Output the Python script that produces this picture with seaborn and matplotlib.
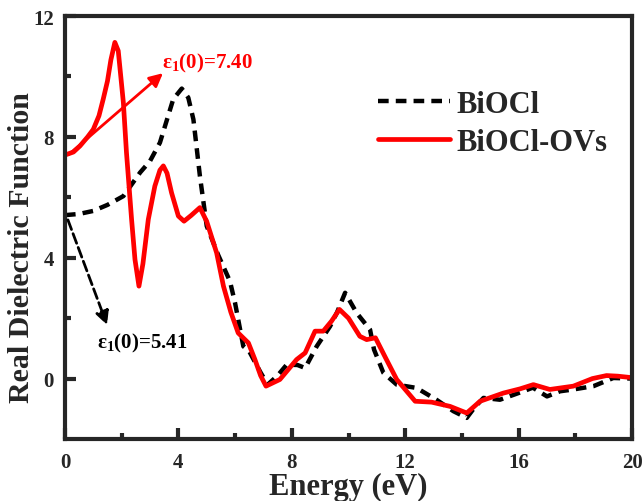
import seaborn as sns
from matplotlib import pyplot as plt
import pandas as pd

# energy (eV) and real dielectric function
biocl_x = [0, 0.5, 1.0, 1.5, 2.06, 2.65, 3.0, 3.35, 3.82, 4.12, 4.35, 4.53, 4.76, 5.0,
           5.4, 5.82, 6.0, 6.29, 6.5, 6.9, 7.15, 7.5, 7.82, 8.2, 8.47, 8.88, 9.35, 9.6,
           9.88, 10.29, 10.76, 10.9, 11.23, 11.7, 12.4, 13.1, 13.7, 14.17, 14.45, 14.76,
           15.34, 16.17, 16.5, 17.0, 17.46, 17.93, 18.64, 19.34, 20.0]
biocl_y = [5.41, 5.45, 5.55, 5.75, 6.04, 6.82, 7.2, 7.81, 9.25, 9.6, 9.3, 8.58, 6.7, 5.05,
           4.1, 3.22, 2.5, 1.07, 0.9, 0.2, -0.2, 0.1, 0.46, 0.45, 0.35, 1.07, 1.73, 2.2,
           2.84, 2.17, 1.62, 0.96, 0.19, -0.2, -0.31, -0.7, -1.08, -1.3, -0.95, -0.64,
           -0.7, -0.42, -0.3, -0.59, -0.42, -0.36, -0.25, 0.02, 0.0]

ovs_x = [0, 0.3, 0.53, 0.8, 1.0, 1.2, 1.35, 1.5, 1.62, 1.76, 1.88, 2.06, 2.17, 2.35, 2.47,
         2.61, 2.75, 2.94, 3.17, 3.35, 3.47, 3.6, 3.76, 4.0, 4.2, 4.45, 4.76, 5.0, 5.35,
         5.59, 5.85, 6.11, 6.47, 6.7, 6.9, 7.09, 7.58, 8.17, 8.47, 8.82, 9.11, 9.4, 9.68,
         10.0, 10.4, 10.64, 10.95, 11.3, 11.7, 12.35, 12.93, 13.58, 14.17, 14.64, 15.46,
         16.05, 16.52, 17.1, 17.93, 18.6, 19.1, 19.5, 20.0]
ovs_y = [7.40, 7.5, 7.7, 8.0, 8.25, 8.7, 9.25, 9.85, 10.55, 11.13, 10.85, 9.14, 7.48, 5.27,
         3.94, 3.06, 3.8, 5.27, 6.37, 6.9, 7.04, 6.8, 6.15, 5.38, 5.21, 5.4, 5.66, 5.2,
         4.16, 3.06, 2.2, 1.51, 1.18, 0.63, 0.1, -0.25, -0.03, 0.63, 0.85, 1.57, 1.57, 1.9,
         2.29, 2.0, 1.4, 1.29, 1.35, 0.7, -0.03, -0.75, -0.78, -0.92, -1.14, -0.75, -0.48,
         -0.34, -0.2, -0.36, -0.25, 0.0, 0.1, 0.08, 0.03]

names = ['BiOCl', 'BiOCl-OVs']
colors = ['black', 'red']

sns.set_style('ticks')
plt.rcParams['font.family'] = ['Liberation Serif', 'DejaVu Serif']
plt.rcParams['font.weight'] = 'bold'
plt.rcParams['mathtext.fontset'] = 'custom'
plt.rcParams['mathtext.rm'] = 'Liberation Serif:bold'
plt.rcParams['mathtext.default'] = 'rm'

df1 = pd.DataFrame({'x': biocl_x, 'y': biocl_y})
df2 = pd.DataFrame({'x': ovs_x, 'y': ovs_y})

fig = plt.figure(figsize=(6.43, 5.02), dpi=100)
ax = fig.add_axes([0.101, 0.1235, 0.882, 0.8425])

sns.lineplot(data=df1, x='x', y='y', color=colors[0], lw=3.2,
             linestyle=(0, (2.4, 1.6)), label=names[0], ax=ax)
sns.lineplot(data=df2, x='x', y='y', color=colors[1], lw=3.4,
             label=names[1], ax=ax)

ax.set_xlim(0, 20)
ax.set_ylim(-2, 12)
ax.set_xticks([0, 4, 8, 12, 16, 20])
ax.set_xticks([2, 6, 10, 14, 18], minor=True)
ax.set_yticks([0, 4, 8, 12])
ax.set_yticks([2, 6, 10], minor=True)
ax.tick_params(which='both', direction='in', width=3, labelsize=15)
ax.tick_params(axis='x', which='major', pad=9)
ax.tick_params(axis='y', which='major', pad=8)
ax.tick_params(which='major', length=8)
ax.tick_params(which='minor', length=4)
for s in ax.spines.values():
    s.set_linewidth(3)

ax.set_xlabel('Energy (eV)', fontsize=22, fontweight='bold', labelpad=0)
ax.set_ylabel('Real Dielectric Function', fontsize=21.5, fontweight='bold')
ax.yaxis.set_label_coords(-0.052, 0.456)

# eps1(0) annotations
ax.annotate('', xy=(3.53, 10.17), xytext=(0.05, 7.35),
            arrowprops=dict(arrowstyle='-|>', color='red', lw=2, mutation_scale=20))
ax.text(3.42, 10.47, r'ε$_{1}$(0)=7.40', color='red', fontsize=15,
        fontweight='bold', ha='left', va='center')
ax.annotate('', xy=(1.52, 1.69), xytext=(0.07, 5.34),
            arrowprops=dict(arrowstyle='-|>', color='black', lw=2, ls='--',
                            mutation_scale=20))
ax.text(1.13, 1.19, r'ε$_{1}$(0)=5.41', color='black', fontsize=15,
        fontweight='bold', ha='left', va='center')

ax.legend(loc='upper left', bbox_to_anchor=(0.552, 0.826), frameon=False,
          fontsize=22, handlelength=2.35, handletextpad=0.23, labelspacing=0.3,
          borderaxespad=0, borderpad=0)

plt.savefig('out.png', dpi=100)
plt.close()
